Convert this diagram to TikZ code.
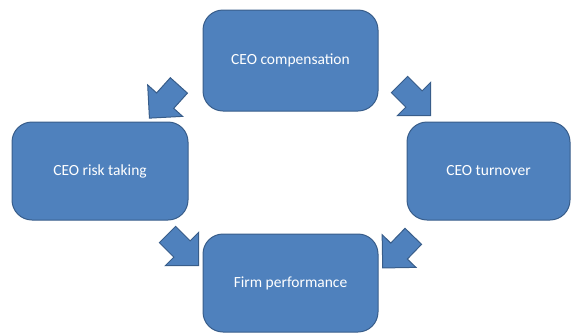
\documentclass[tikz,border=0pt]{standalone}
\usepackage{fontspec}
\setmainfont{Carlito}
\usetikzlibrary{shapes.arrows, positioning}
\definecolor{boxfill}{RGB}{79,129,189}
\definecolor{boxline}{RGB}{56,93,138}

\begin{document}
\begin{tikzpicture}[
          x=1pt, y=-1pt,
          block/.style={rectangle, rounded corners=20pt, draw=boxline, fill=boxfill,
                        line width=1pt, text=white, inner sep=0pt,
                        font=\fontsize{15.5}{18}\selectfont},
          flow/.style={single arrow, draw=boxline, fill=boxfill, line width=1pt,
                       text height=11pt, text depth=11pt, text width=0pt,
                       minimum height=44pt, single arrow head extend=12pt,
                       inner sep=0pt}
        ]
        \useasboundingbox (0,0) rectangle (571,333);
        \node[block, minimum width=175pt, minimum height=101pt] (comp) at (290.5,60.5) {CEO compensation};
        \node[block, minimum width=176pt, minimum height=98pt]  (risk) at (100,171) {CEO risk taking};
        \node[block, minimum width=163pt, minimum height=98pt]  (turn) at (488.5,171) {CEO turnover};
        \node[block, minimum width=175pt, minimum height=98pt]  (perf) at (290.5,283) {Firm performance};
        % block arrows between the boxes
        \node[flow, rotate=228] (compRisk) at (168,97.5) {};
        \node[flow, rotate=-45] (compTurn) at (411,96) {};
        \node[flow, rotate=-45] (riskPerf) at (179,246) {};
        \node[flow, rotate=226] (turnPerf) at (402,248) {};
      \end{tikzpicture}
\end{document}
